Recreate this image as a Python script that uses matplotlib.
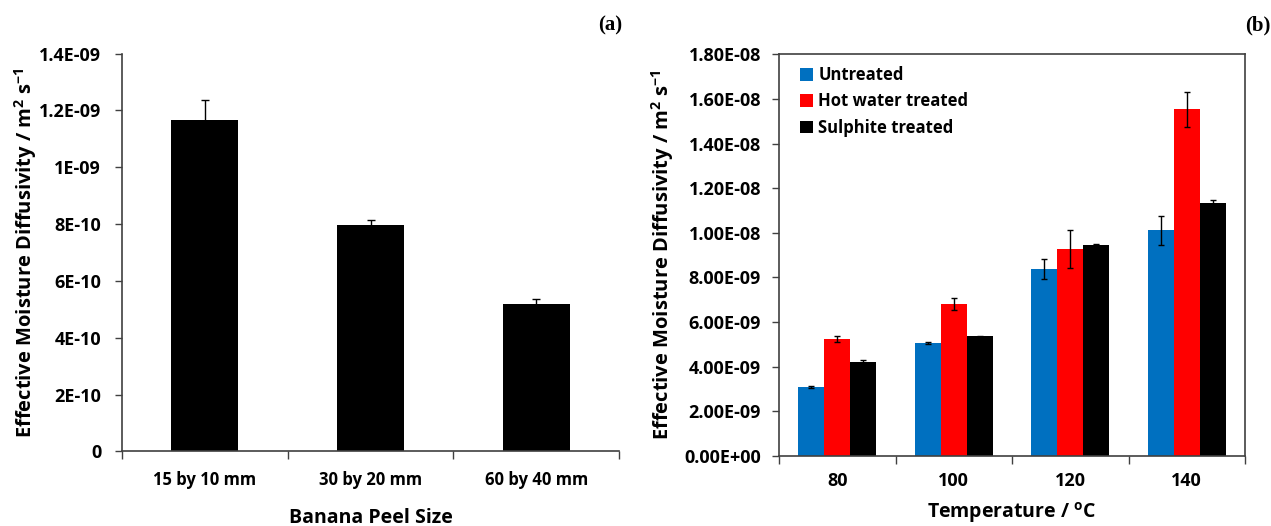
import matplotlib
matplotlib.use("Agg")
import matplotlib.pyplot as plt
import numpy as np
from matplotlib.ticker import FixedLocator, NullFormatter

plt.rcParams['font.family'] = ['Open Sans', 'DejaVu Sans']
plt.rcParams['font.weight'] = 'bold'
plt.rcParams['mathtext.fontset'] = 'custom'
plt.rcParams['mathtext.bf'] = 'Open Sans:bold'
plt.rcParams['mathtext.rm'] = 'Open Sans:bold'

# panel (a) data
sizes = ["15 by 10 mm", "30 by 20 mm", "60 by 40 mm"]
diff_a = [1.168e-9, 0.796e-9, 0.519e-9]
err_a = [0.069e-9, 0.019e-9, 0.017e-9]
yticks_a = [0, 2e-10, 4e-10, 6e-10, 8e-10, 1e-9, 1.2e-9, 1.4e-9]
ylabels_a = ["0", "2E-10", "4E-10", "6E-10", "8E-10", "1E-09", "1.2E-09", "1.4E-09"]

# panel (b) data
temps = ["80", "100", "120", "140"]
untreated = [3.09e-9, 5.05e-9, 8.37e-9, 10.11e-9]
untreated_err = [0.04e-9, 0.04e-9, 0.45e-9, 0.64e-9]
hot_water = [5.25e-9, 6.80e-9, 9.27e-9, 15.53e-9]
hot_water_err = [0.14e-9, 0.27e-9, 0.87e-9, 0.77e-9]
sulphite = [4.21e-9, 5.36e-9, 9.47e-9, 11.35e-9]
sulphite_err = [0.10e-9, 0.03e-9, 0.04e-9, 0.10e-9]
yticks_b = [i * 2e-9 for i in range(10)]
ylabels_b = ["%.2E" % v for v in yticks_b]

ylab = r"Effective Moisture Diffusivity / m$^{\mathbf{2}}$ s$^{\mathbf{-1}}$"

fig = plt.figure(figsize=(12.71, 5.26), dpi=100)

# ---- (a)
ax1 = fig.add_axes([122/1271, 1 - 451.3/526, (619-122)/1271, (451.3-53.7)/526])
x = np.arange(len(sizes))
ax1.bar(x, diff_a, width=0.405, color="black", zorder=2)
ax1.errorbar(x, diff_a, yerr=err_a, fmt="none", ecolor="black", elinewidth=1,
             capsize=3, capthick=1, zorder=3)
ax1.set_xlim(-0.5, len(sizes) - 0.5)
ax1.set_ylim(0, 1.4e-9)
ax1.set_yticks(yticks_a)
ax1.set_yticklabels(ylabels_a, fontweight="bold", fontsize=13)
ax1.set_xticks(x)
ax1.set_xticklabels(sizes, fontweight="bold", fontsize=12)
ax1.xaxis.set_minor_locator(FixedLocator(np.arange(-0.5, len(sizes), 1.0)))
ax1.xaxis.set_minor_formatter(NullFormatter())
ax1.tick_params(axis="x", which="major", length=0, pad=14)
ax1.tick_params(axis="x", which="minor", length=6, width=1, direction="out", color="#404040")
ax1.tick_params(axis="y", length=5, width=1, direction="out", pad=10, color="#404040")
for s in ["top", "right"]:
    ax1.spines[s].set_visible(False)
for s in ["left", "bottom"]:
    ax1.spines[s].set_color("#404040")
    ax1.spines[s].set_linewidth(1.2)
ax1.set_ylabel(ylab, fontsize=14.5, fontweight="bold")
ax1.yaxis.set_label_coords(-0.168, 0.5)
ax1.set_xlabel("Banana Peel Size", fontsize=14, fontweight="bold")
ax1.xaxis.set_label_coords(0.5, -0.143)
fig.text(610/1271, 1 - 25/526, "(a)", family="Liberation Serif", fontsize=15,
         fontweight="bold", ha="center", va="center")

# ---- (b)
ax2 = fig.add_axes([779/1271, 1 - 455.7/526, (1245-779)/1271, (455.7-54.4)/526])
xb = np.arange(len(temps))
w = 0.224
series = [(untreated, untreated_err, "#0070C0", "Untreated"),
          (hot_water, hot_water_err, "#FF0000", "Hot water treated"),
          (sulphite, sulphite_err, "black", "Sulphite treated")]
for i, (vals, errs, col, lab) in enumerate(series):
    pos = xb + (i - 1) * w
    ax2.bar(pos, vals, width=w, color=col, label=lab, zorder=2)
    ax2.errorbar(pos, vals, yerr=errs, fmt="none", ecolor="black", elinewidth=1,
                 capsize=2.5, capthick=1, zorder=3)
ax2.set_xlim(-0.5, len(temps) - 0.5)
ax2.set_ylim(0, 1.8e-8)
ax2.set_yticks(yticks_b)
ax2.set_yticklabels(ylabels_b, fontweight="bold", fontsize=13)
ax2.set_xticks(xb)
ax2.set_xticklabels(temps, fontweight="bold", fontsize=13)
ax2.xaxis.set_minor_locator(FixedLocator(np.arange(-0.5, len(temps), 1.0)))
ax2.xaxis.set_minor_formatter(NullFormatter())
ax2.tick_params(axis="x", which="major", length=0, pad=12)
ax2.tick_params(axis="x", which="minor", length=6, width=1, direction="out", color="#404040")
ax2.tick_params(axis="y", length=5, width=1, direction="out", pad=8, color="#404040")
for s in ax2.spines.values():
    s.set_color("#404040")
    s.set_linewidth(1.2)
ax2.set_ylabel(ylab, fontsize=14.5, fontweight="bold", labelpad=6)
ax2.set_xlabel(r"Temperature / $^{\mathbf{o}}$C", fontsize=14, fontweight="bold")
ax2.xaxis.set_label_coords(0.5, -0.11)
leg = ax2.legend(loc="upper left", frameon=False, fontsize=12, handlelength=0.8,
                 handleheight=0.8, handletextpad=0.3, labelspacing=0.5,
                 bbox_to_anchor=(0.02, 1.0), borderaxespad=0.3)
fig.text(1258/1271, 1 - 25/526, "(b)", family="Liberation Serif", fontsize=15,
         fontweight="bold", ha="center", va="center")

fig.savefig("out.png", dpi=100)
